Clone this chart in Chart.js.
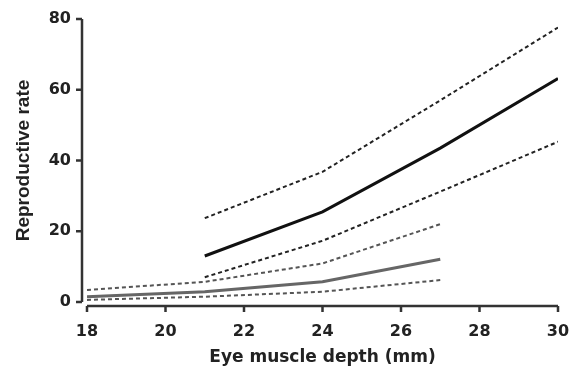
<!DOCTYPE html>
<html>
<head>
<meta charset="utf-8">
<script src="https://cdn.jsdelivr.net/npm/chart.js@4.4.0/dist/chart.umd.min.js"></script>
<style>
  html, body { margin: 0; padding: 0; background: #fff; }
  #wrap { width: 573px; height: 374px; }
</style>
</head>
<body>
<div id="wrap"><canvas id="chart"></canvas></div>
<script>
// eye muscle depth (mm) and reproductive rate
const depthHigh = [21, 24, 27, 30];
const rateHigh = [13, 25.5, 43.5, 63.2];
const rateHighUpper = [23.7, 36.8, 57, 77.6];
const rateHighLower = [7.0, 17.3, 31.2, 45.3];

const depthLow = [18, 21, 24, 27];
const rateLow = [1.5, 2.9, 5.7, 12.1];
const rateLowUpper = [3.4, 5.7, 10.9, 22.0];
const rateLowLower = [0.6, 1.5, 2.9, 6.2];

const xTicks = [18, 20, 22, 24, 26, 28, 30];
const yTicks = [0, 20, 40, 60, 80];

function pts(xs, ys) {
    return xs.map(function (x, i) { return { x: x, y: ys[i] }; });
}

function line(xs, ys, color, width, dash) {
    return {
        data: pts(xs, ys),
        borderColor: color,
        borderWidth: width,
        borderDash: dash || [],
        pointRadius: 0,
        tension: 0,
        fill: false
    };
}

// prism style axes: detached from each other
const prismAxes = {
    id: 'prismAxes',
    afterDraw: function (chart) {
        const ctx = chart.ctx;
        const a = chart.chartArea;
        const xs = chart.scales.x;
        const ys = chart.scales.y;
        const yLineX = a.left - 5;
        const xLineY = a.bottom + 4;
        ctx.save();
        ctx.strokeStyle = '#333';
        ctx.lineWidth = 2.5;
        ctx.setLineDash([]);
        ctx.beginPath();
        ctx.moveTo(yLineX, ys.getPixelForValue(80));
        ctx.lineTo(yLineX, ys.getPixelForValue(0));
        yTicks.forEach(function (v) {
            const p = ys.getPixelForValue(v);
            ctx.moveTo(yLineX - 6, p);
            ctx.lineTo(yLineX, p);
        });
        ctx.moveTo(xs.getPixelForValue(18), xLineY);
        ctx.lineTo(xs.getPixelForValue(30), xLineY);
        xTicks.forEach(function (v) {
            const p = xs.getPixelForValue(v);
            ctx.moveTo(p, xLineY);
            ctx.lineTo(p, xLineY + 6);
        });
        ctx.stroke();
        ctx.restore();
    }
};

const tickFont = { family: 'DejaVu Sans', size: 16, weight: 'bold' };

new Chart(document.getElementById('chart'), {
    type: 'line',
    data: {
        datasets: [
            line(depthHigh, rateHighUpper, '#222', 2, [4, 3]),
            line(depthHigh, rateHigh, '#111', 3),
            line(depthHigh, rateHighLower, '#222', 2, [4, 3]),
            line(depthLow, rateLowUpper, '#555', 2, [4, 3]),
            line(depthLow, rateLow, '#666', 3),
            line(depthLow, rateLowLower, '#555', 2, [4, 3])
        ]
    },
    options: {
        responsive: true,
        maintainAspectRatio: false,
        animation: false,
        layout: { padding: { top: 19, right: 15, left: 0, bottom: 0 } },
        plugins: {
            legend: { display: false },
            tooltip: { enabled: false }
        },
        scales: {
            x: {
                type: 'linear',
                min: 18,
                max: 30,
                grid: { display: false, drawTicks: false },
                border: { display: false },
                afterFit: function (s) {
                    s.height = 72;
                    s.paddingLeft = 0;
                    s.paddingRight = 0;
                },
                ticks: {
                    stepSize: 2,
                    color: '#222',
                    font: tickFont,
                    padding: 20
                },
                title: {
                    display: true,
                    text: 'Eye muscle depth (mm)',
                    color: '#222',
                    font: { family: 'DejaVu Sans', size: 17, weight: 'bold' },
                    padding: { top: 0, bottom: 6 }
                }
            },
            y: {
                min: 0,
                max: 80,
                grid: { display: false, drawTicks: false },
                border: { display: false },
                afterFit: function (s) {
                    s.width = 87;
                    s.paddingTop = 0;
                    s.paddingBottom = 0;
                },
                ticks: {
                    stepSize: 20,
                    color: '#222',
                    font: tickFont,
                    padding: 16
                },
                title: {
                    display: true,
                    text: 'Reproductive rate',
                    color: '#222',
                    font: { family: 'Liberation Sans', size: 19, weight: 'bold' },
                    padding: { top: 12, bottom: 0 }
                }
            }
        }
    },
    plugins: [prismAxes]
});
</script>
</body>
</html>
